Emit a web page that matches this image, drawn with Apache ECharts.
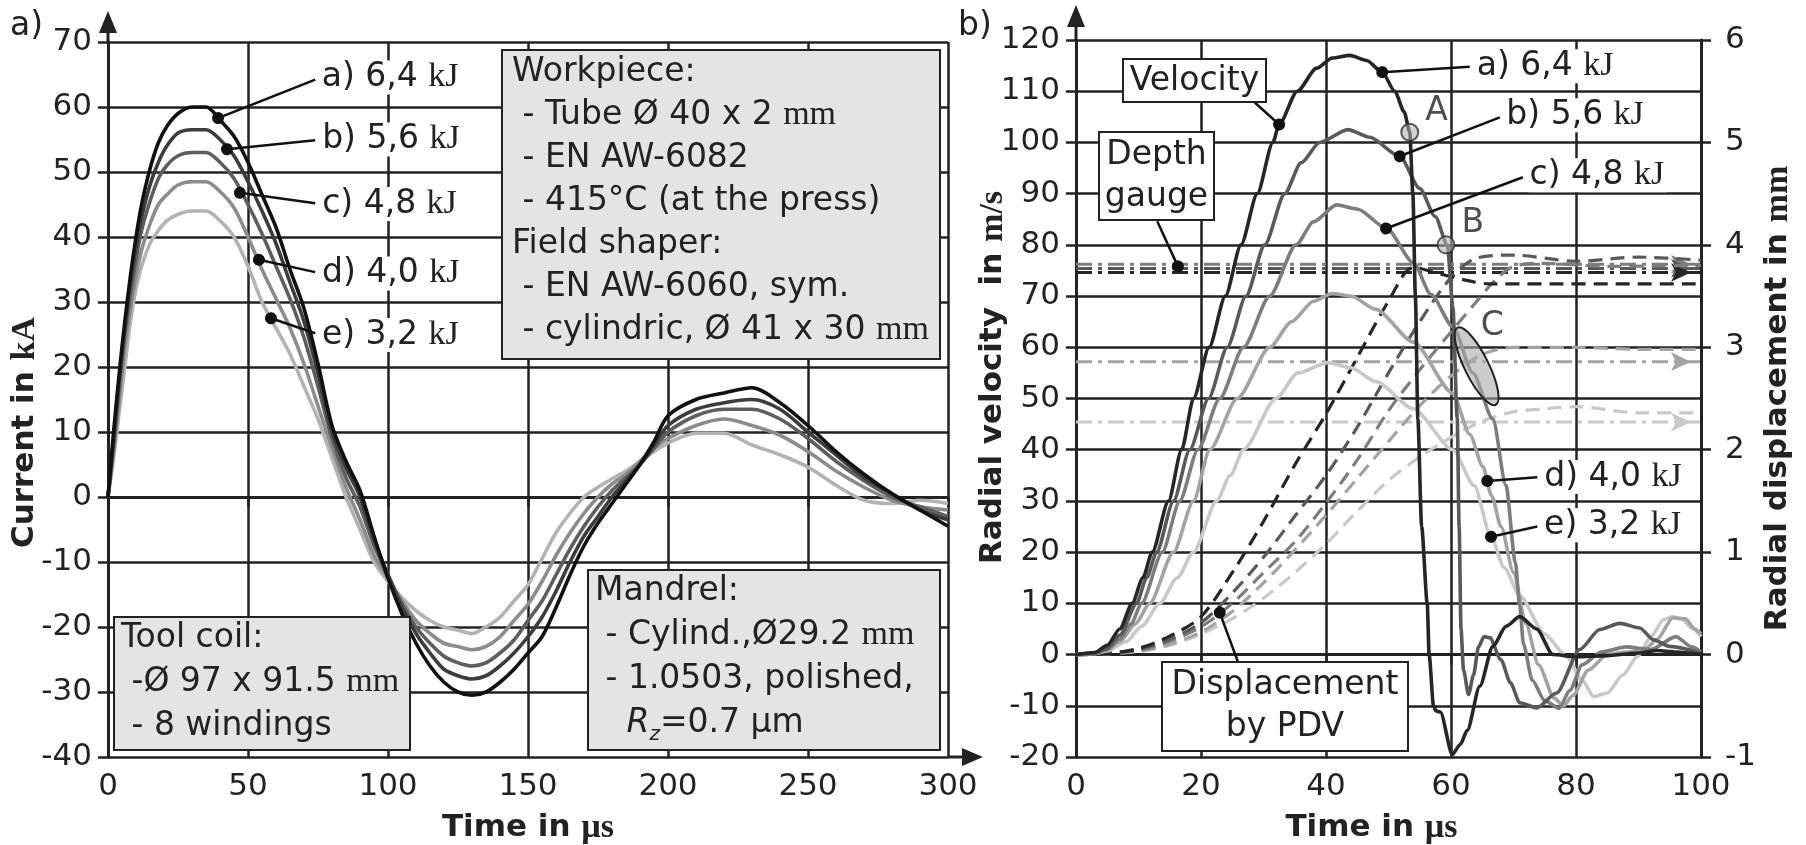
<!DOCTYPE html>
<html lang="en">
<head>
<meta charset="UTF-8">
<title>coil current and tube velocity</title>
<script src="https://cdn.jsdelivr.net/npm/echarts@6.0.0/dist/echarts.min.js"></script>
</head>
<body style="margin:0;background:#fff">
<div id="chart" style="width:1806px;height:845px;"></div>
<script>
// ---------- data: a) current (kA) over time (µs) ----------
var timeCur = [0,2,4,6,8,10,12,15,18,21,25,30,35,40,45,50,55,60,65,70,75,80,85,90,95,100,105,110,115,120,125,130,135,140,145,150,155,160,165,170,175,180,185,190,195,200,210,220,230,240,250,260,270,280,290,300];
var curA = [0,10,19,27,34,40,45,50.5,54.5,57,59,60,60,58,55.5,51.5,46.5,41.5,35,29,20.5,11,5.5,1,-6,-12.5,-18,-22.5,-26,-28.5,-30,-30.5,-30,-28.5,-26.5,-24,-21.5,-17,-12,-7.5,-4,-1,2,5,8.5,12.5,15,16,16.8,14.5,11,7,3.5,0.5,-2,-4.5];
var curB = [0,9,18,26,33,38.5,43,48,51.5,54,56,56.5,56.5,55,52.5,48.5,44,39,33,27,19,10,4.5,0,-6.5,-12,-17,-21,-24,-26.5,-27.5,-28,-27.5,-26,-24,-21.5,-18.5,-14.5,-10,-6,-3,0,2.5,5,8,11,13.5,14.5,15,13.5,10,6.5,3,0.5,-2,-3.5];
var curC = [0,8,17,25,31,36.5,41,45.5,49,51,52.5,53,53,51.5,49,45,40.5,35.5,30.5,24.5,17,9,3,-1.5,-7.5,-12,-16.5,-20,-22.5,-24.5,-25.5,-26,-25.5,-24,-22,-19,-16,-12,-8,-4.5,-1.5,1,3,5,7.5,10,12.5,13.5,13.5,12,9,5.5,2.5,0,-1.5,-3];
var curD = [0,7,15,23,29,34,38,42,45,46.5,48,48.5,48.5,47,44.5,40,35,30.5,26,20.5,14,7.5,1.5,-3.5,-9,-12.5,-16,-19,-21,-22.5,-23,-23.5,-23,-21.5,-19,-16.5,-13,-9,-5.5,-2.5,0,2,3.5,5.5,7.5,9,11,12,11,9.5,7,4,1.5,-0.5,-1.5,-2];
var curE = [0,6,13,20,27,32,35.5,39,41,42.5,43.5,44,44,42.5,40,35.5,30,26,22,17,12,6,0,-5,-10,-13,-15.5,-17.5,-19,-20,-20.5,-21,-20,-18.5,-16,-13.5,-9.5,-5.5,-2.5,0,1.5,2.8,4,5.5,7,8.3,9.8,9.8,8,6.5,4.6,1.8,-0.5,-1,-0.5,-1];

// ---------- data: b) radial velocity (m/s) over time (µs) ----------
var velA = [[0,0],[3,0.4],[5,1.8],[7,5],[9,10],[10.7,15],[12.2,20],[14.8,30],[16.9,40],[18.8,50],[21.3,60],[23.9,70],[26.4,80],[29,90],[31.5,100],[32.5,103.5],[35.4,110],[38.5,114.5],[41,116.5],[43.8,117],[46.5,116],[49,113.7],[51,110],[52.5,106],[53.4,102],[53.9,90],[54.3,70],[54.7,46],[55.3,25],[56.2,10],[56.5,0],[57.2,-10],[57.6,-11],[58.3,-11.2],[60.2,-19.5],[61.5,-17.5],[62.6,-14.8],[64.6,-6.2],[66.7,1.6],[68.8,5.5],[71,7.4],[73.7,5],[76.3,0],[80,-0.4],[85,-0.2],[90,0.3],[93,0.8],[96,0.5],[100,0]];
var velB = [[0,0],[3,0.3],[5,1.2],[7,3.8],[9.7,10],[11.3,15],[12.9,20],[15.6,30],[18.2,40],[21.2,50],[24.2,60],[27.2,70],[30.2,80],[33.4,90],[36,96],[39,100],[43.5,102.5],[47,101],[51.8,97.3],[55,91],[57.5,85.5],[59.4,80],[60.3,68],[61,46],[61.3,25],[61.6,5],[62,-3],[62.8,-7.8],[63.6,-4],[64.4,1.5],[65.3,3.5],[66.2,3.3],[68,-1],[69.5,-5.5],[71,-9.4],[73.7,-10.4],[76.9,-7.5],[80.6,1],[83.8,4.9],[87,6.1],[90.2,5.2],[92.4,2.9],[95,1.6],[100,0.3]];
var velC = [[0,0],[3,0.2],[5,1],[7,3],[8.8,6],[10.5,10],[13.8,20],[16.6,30],[19.5,40],[23,50],[26.8,60],[31,70],[35.2,80],[38,84.5],[41.7,87.8],[45,87],[49.7,83.2],[54,76.5],[56.8,70.3],[60.3,64],[63.5,55],[66.7,46],[68.8,33],[70.3,18],[71,9.4],[71.6,2],[73,-5],[75,-9],[77.3,-10.5],[79,-7],[81,-2],[84,0.5],[88,1.5],[92,1],[96,3.5],[98.5,1.5],[100,0.5]];
var velD = [[0,0],[3,0.2],[5,0.9],[7,2.5],[9.5,6],[11.8,10],[15.6,20],[18.8,30],[21.4,40],[25.8,50],[31,60],[34.5,65],[38,69],[41,70.5],[44,70],[48,67.4],[54,61],[60.3,51],[63,43],[65.1,36.7],[66.5,31],[68,25],[70,16],[72,6],[74,-2],[76.5,-8.5],[78,-10],[79.5,-8],[82,-3],[85,0],[88,0.5],[91,1],[93,3],[95.5,7.2],[97.5,7],[99,5],[100,4]];
var velE = [[0,0],[3,0.2],[5,0.7],[8,2.5],[10.5,5.5],[13.4,10],[16.2,15],[18.8,20],[22.5,30],[24.7,35],[26.8,40],[32,50],[35.5,55],[40.3,57],[44,56],[48,53.3],[54,48],[60.3,40],[63.7,33],[66.4,23],[68.5,17],[71,11.5],[75,4],[78.5,-0.4],[81,-5],[82.8,-8.2],[85,-7.5],[87.5,-4],[89.8,-0.4],[92,3.5],[94,6.8],[95.5,7.4],[97,6.8],[98.7,5],[100,3.5]];

// ---------- data: b) radial displacement by PDV (mm) ----------
var dispA = [[0,0],[5,0.01],[10,0.06],[15,0.18],[20,0.37],[25,0.8],[30,1.3],[35,1.85],[40,2.35],[45,2.9],[50,3.45],[54,3.78],[58,3.72],[62,3.66],[66,3.62],[100,3.62]];
var dispB = [[0,0],[5,0.01],[10,0.05],[15,0.15],[20,0.31],[25,0.6],[30,0.95],[35,1.35],[40,1.75],[45,2.22],[50,2.75],[55,3.25],[60,3.68],[64,3.87],[70,3.9],[80,3.84],[90,3.88],[100,3.85]];
var dispC = [[0,0],[5,0.01],[10,0.04],[15,0.13],[20,0.27],[25,0.5],[30,0.8],[35,1.1],[40,1.48],[45,1.9],[50,2.38],[55,2.78],[60,3.15],[64,3.44],[67,3.65],[70,3.79],[75,3.82],[85,3.79],[100,3.8]];
var dispD = [[0,0],[5,0.01],[10,0.03],[15,0.1],[20,0.22],[25,0.42],[30,0.7],[35,1.02],[40,1.36],[45,1.72],[50,2.08],[55,2.43],[60,2.72],[65,2.93],[70,3.0],[80,3.0],[90,2.98],[100,2.98]];
var dispE = [[0,0],[5,0.01],[10,0.03],[15,0.09],[20,0.2],[25,0.35],[30,0.55],[35,0.8],[40,1.08],[45,1.4],[50,1.7],[55,1.93],[60,2.12],[65,2.28],[70,2.37],[75,2.4],[80,2.42],[90,2.36],[100,2.36]];

// depth gauge (mm), one per energy
var gaugeLevels = [3.73, 3.77, 3.81, 2.86, 2.27];
var energyNames = ['a) 6,4', 'b) 5,6', 'c) 4,8', 'd) 4,0', 'e) 3,2'];

// ---------- styling ----------
var F = 'DejaVu Sans';
var SERIF = 'Liberation Serif';
var INK = '#222';
var curShades = ['#111111', '#3c3c3c', '#5e5e5e', '#8c8c8c', '#b3b3b3'];
var velShades = ['#262626', '#595959', '#7d7d7d', '#a3a3a3', '#c9c9c9'];

var labelStyle = {
  show: true, position: 'end', distance: 6,
  color: INK, fontFamily: F, fontSize: 33,
  backgroundColor: '#fff', padding: [0, 3, 0, 1],
  rich: { s: { fontFamily: SERIF, fontSize: 34, color: INK } }
};

function leader(from, to, text) {
  var lab = text ? Object.assign({}, labelStyle, { formatter: text }) : { show: false };
  return [
    { coord: from, symbol: 'circle', symbolSize: 12, label: lab },
    { coord: to, symbol: 'none', label: lab }
  ];
}

function marks(list) {
  return {
    silent: true, animation: false,
    symbol: ['circle', 'none'], symbolSize: 12,
    itemStyle: { color: '#111' },
    lineStyle: { color: '#111', width: 2.5, type: 'solid' },
    label: labelStyle,
    emphasis: { disabled: true },
    data: list
  };
}

function valueAxis(extra) {
  return Object.assign({
    type: 'value',
    axisLine: { show: true, lineStyle: { color: INK, width: 3 } },
    axisTick: { show: true, length: 10, lineStyle: { color: INK, width: 2.5 } },
    axisLabel: { color: INK, fontFamily: F, fontSize: 31, hideOverlap: false },
    splitLine: { show: true, lineStyle: { color: INK, width: 2.5 } },
    nameLocation: 'middle',
    nameMoveOverlap: false
  }, extra);
}

function nameStyle(pad) {
  return {
    padding: pad,
    rich: {
      b: { fontFamily: F, fontWeight: 'bold', fontSize: 31, color: INK },
      s: { fontFamily: SERIF, fontWeight: 'bold', fontSize: 34, color: INK }
    }
  };
}

var series = [];

// a) current curves, lightest first so the black one lies on top
var curves = [curA, curB, curC, curD, curE];
var curNotes = [
  leader([39.3, 58.3], [74, 64.2], energyNames[0] + ' {s|kJ}'),
  leader([42.5, 53.5], [74, 54.9], energyNames[1] + ' {s|kJ}'),
  leader([47.1, 46.8], [74, 45.2], energyNames[2] + ' {s|kJ}'),
  leader([53.9, 36.5], [74, 34.6], energyNames[3] + ' {s|kJ}'),
  leader([58.2, 27.5], [74, 25.2], energyNames[4] + ' {s|kJ}')
];
[4, 3, 2, 1, 0].forEach(function (i) {
  series.push({
    type: 'line', xAxisIndex: 0, yAxisIndex: 0,
    symbol: 'none', showSymbol: false, smooth: 0.3,
    data: timeCur.map(function (t, k) { return [t, curves[i][k]]; }),
    lineStyle: { color: curShades[i], width: 3.6 },
    emphasis: { disabled: true },
    markLine: marks([curNotes[i]]),
    z: 3
  });
});

// b) depth gauge levels (dash-dot, arrow at the end)
[4, 3, 2, 1, 0].forEach(function (i) {
  series.push({
    type: 'line', xAxisIndex: 1, yAxisIndex: 2,
    symbol: 'none', showSymbol: true,
    data: [
      { value: [0, gaugeLevels[i]], symbol: 'none' },
      { value: [100, gaugeLevels[i]], symbol: 'arrow', symbolSize: [14, 20], symbolRotate: -90, symbolOffset: [-10, 0] }
    ],
    itemStyle: { color: velShades[i] },
    lineStyle: { color: velShades[i], width: 3, type: [16, 6, 4, 6] },
    emphasis: { disabled: true },
    z: 2
  });
});

// b) displacement by PDV (dashed)
var disps = [dispA, dispB, dispC, dispD, dispE];
[4, 3, 2, 1, 0].forEach(function (i) {
  series.push({
    type: 'line', xAxisIndex: 1, yAxisIndex: 2,
    symbol: 'none', showSymbol: false, smooth: 0.3,
    data: disps[i],
    lineStyle: { color: velShades[i], width: 3.2, type: [14, 8] },
    emphasis: { disabled: true },
    z: 3
  });
});

// b) velocity curves
var vels = [velA, velB, velC, velD, velE];
var velNotes = [
  [
    leader([49, 113.7], [63, 114.8], energyNames[0] + ' {s|kJ}'),
    leader([32.5, 103.5], [28.6, 107.8], null),
    leader([16.3, 75.8], [13, 84.6], null),
    leader([23, 8.2], [25.9, -1.4], null)
  ],
  [leader([51.8, 97.3], [67.8, 104.9], energyNames[1] + ' {s|kJ}')],
  [leader([49.6, 83.2], [71.5, 93.2], energyNames[2] + ' {s|kJ}')],
  [leader([65.8, 33.9], [73.8, 34.6], energyNames[3] + ' {s|kJ}')],
  [leader([66.4, 23], [73.8, 25], energyNames[4] + ' {s|kJ}')]
];
[4, 3, 2, 1, 0].forEach(function (i) {
  series.push({
    type: 'line', xAxisIndex: 1, yAxisIndex: 1,
    symbol: 'none', showSymbol: false, smooth: 0.25, smoothMonotone: 'x',
    data: vels[i],
    lineStyle: { color: velShades[i], width: 3.6 },
    emphasis: { disabled: true },
    markLine: marks(velNotes[i]),
    z: 4
  });
});

// points A, B and label C
series.push({
  type: 'scatter', xAxisIndex: 1, yAxisIndex: 1,
  data: [
    { value: [53.4, 102], name: 'A' },
    { value: [59.2, 80], name: 'B' },
    { value: [66.6, 64.1], name: 'C', symbolSize: 0, label: { position: 'inside', offset: [0, 0] } }
  ],
  symbol: 'circle', symbolSize: 17,
  itemStyle: { color: 'rgba(175,175,175,0.7)', borderColor: '#333', borderWidth: 2 },
  label: {
    show: true, formatter: '{b}', position: 'right', distance: 6, offset: [0, -21],
    color: INK, fontFamily: F, fontSize: 33
  },
  emphasis: { disabled: true },
  silent: true,
  z: 6
});

var option = {
  animation: false,
  backgroundColor: '#fff',
  grid: [
    { left: 108, top: 42, width: 840, height: 715, outerBoundsMode: 'none', containLabel: false },
    { left: 1076, top: 40, width: 625, height: 717, outerBoundsMode: 'none', containLabel: false }
  ],
  xAxis: [
    valueAxis({
      gridIndex: 0, min: 0, max: 300, interval: 50,
      axisLabel: { color: INK, fontFamily: F, fontSize: 31, margin: 14 },
      name: '{b|Time in }{s|µs}', nameGap: 54, nameTextStyle: nameStyle([0, 0, 0, 0])
    }),
    valueAxis({
      gridIndex: 1, min: 0, max: 100, interval: 20,
      axisLabel: { color: INK, fontFamily: F, fontSize: 31, margin: 14 },
      name: '{b|Time in }{s|µs}', nameGap: 54, nameTextStyle: nameStyle([0, 34, 0, 0])
    })
  ],
  yAxis: [
    valueAxis({
      gridIndex: 0, min: -40, max: 70, interval: 10,
      axisLabel: { color: INK, fontFamily: F, fontSize: 31, margin: 16 },
      name: '{b|Current in }{s|kA}', nameRotate: 90, nameGap: 66,
      nameTextStyle: nameStyle([0, 66, 0, 0])
    }),
    valueAxis({
      gridIndex: 1, min: -20, max: 120, interval: 10, position: 'left',
      axisLabel: { color: INK, fontFamily: F, fontSize: 31, margin: 16 },
      name: '{b|Radial velocity  in }{s|m/s}', nameRotate: 90, nameGap: 66,
      nameTextStyle: nameStyle([0, 0, 0, 42])
    }),
    valueAxis({
      gridIndex: 1, min: -1, max: 6, interval: 1, position: 'right',
      splitLine: { show: false },
      axisLabel: { color: INK, fontFamily: F, fontSize: 31, margin: 24 },
      name: '{b|Radial displacement in }{s|mm}', nameRotate: 90, nameGap: 60,
      nameTextStyle: nameStyle([0, 0, 0, 0])
    })
  ],
  series: series
};

var chart = echarts.init(document.getElementById('chart'));
chart.setOption(option);

// ---------- annotations (boxes, arrows, ellipse C) ----------
var boxRich = {
  s: { fontFamily: SERIF, fontSize: 34, lineHeight: 43, fill: INK },
  i: { fontFamily: F, fontStyle: 'italic', fontSize: 33, lineHeight: 43, fill: INK },
  sub: { fontFamily: F, fontStyle: 'italic', fontSize: 20, lineHeight: 43, verticalAlign: 'bottom', fill: INK }
};

function rect(x, y, w, h, fill) {
  return { type: 'rect', shape: { x: x, y: y, width: w, height: h },
    style: { fill: fill, stroke: INK, lineWidth: 2 }, z: 100 };
}
function text(x, y, str, lh, align, vAlign) {
  return { type: 'text', x: x, y: y, z: 101,
    style: { text: str, fontFamily: F, fontSize: 33, lineHeight: lh, fill: INK,
      align: align || 'left', verticalAlign: vAlign || 'top', rich: boxRich } };
}
function seg(points) {
  return { type: 'polyline', shape: { points: points }, style: { stroke: INK, lineWidth: 3 }, z: 100 };
}
function tri(points) {
  return { type: 'polygon', shape: { points: points }, style: { fill: INK }, z: 100 };
}

var cPos = chart.convertToPixel({ xAxisIndex: 1, yAxisIndex: 1 }, [64.1, 56.3]);

var graphic = [
  text(10, 6, 'a)', 40),
  text(958, 6, 'b)', 40),
  // axis arrows
  seg([[108, 42], [108, 30]]), tri([[108, 11], [99, 33], [117, 33]]),
  seg([[948, 757], [965, 757]]), tri([[983, 757], [962, 748], [962, 766]]),
  seg([[1076, 40], [1076, 24]]), tri([[1076, 5], [1067, 27], [1085, 27]]),
  // a) info boxes
  rect(502, 50, 438, 309, '#e4e4e4'),
  text(512, 51, 'Workpiece:\n - Tube Ø 40 x 2 {s|mm}\n - EN AW-6082\n - 415°C (at the press)\nField shaper:\n - EN AW-6060, sym.\n - cylindric, Ø 41 x 30 {s|mm}', 43),
  rect(114, 617, 296, 133, '#e4e4e4'),
  text(121, 616, 'Tool coil:\n -Ø 97 x 91.5 {s|mm}\n - 8 windings', 44),
  rect(588, 570, 352, 180, '#e4e4e4'),
  text(595, 569, 'Mandrel:\n - Cylind.,Ø29.2 {s|mm}\n - 1.0503, polished,\n   {i|R}{sub|z}=0.7 µm', 44),
  // b) labels
  rect(1123, 59, 143, 43, '#fff'),
  text(1194.5, 81, 'Velocity', 43, 'center', 'middle'),
  rect(1099, 132, 115, 88, '#fff'),
  text(1156.5, 176, 'Depth\ngauge', 42, 'center', 'middle'),
  rect(1162, 662, 246, 89, '#fff'),
  text(1285, 706.5, 'Displacement\nby PDV', 42, 'center', 'middle'),
  // region C
  { type: 'ellipse', x: cPos[0], y: cPos[1], rotation: -1.11, z: 5,
    shape: { cx: 0, cy: 0, rx: 43, ry: 12 },
    style: { fill: 'rgba(170,170,170,0.6)', stroke: INK, lineWidth: 2 } }
];

chart.setOption({ graphic: graphic });
</script>
</body>
</html>
